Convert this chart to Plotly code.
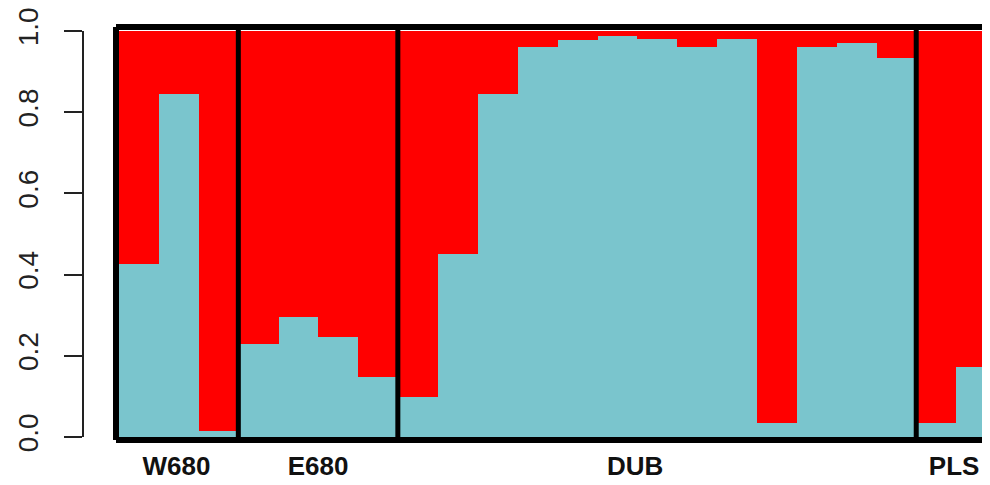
import plotly.graph_objects as go

# ---- data ----
groups = ["W680", "E680", "DUB", "PLS"]
group_sizes = [3, 4, 13, 2]
label_pos = [0.95, 4.5, 12.45, 20.45]
cluster1 = [0.425, 0.844, 0.016,
            0.228, 0.296, 0.247, 0.149,
            0.099, 0.451, 0.844, 0.961, 0.977, 0.988, 0.981, 0.961, 0.981, 0.035, 0.961, 0.971, 0.933,
            0.035, 0.173]
cluster2 = [round(1 - v, 3) for v in cluster1]
y_ticks = [0.0, 0.2, 0.4, 0.6, 0.8, 1.0]

CYAN = "#7AC5CD"
RED = "#FF0000"

idx = list(range(len(cluster1)))

fig = go.Figure()
fig.add_trace(go.Bar(x=idx, y=cluster1, width=1.0, marker=dict(color=CYAN, line=dict(width=0)),
                     showlegend=False, hoverinfo="skip"))
fig.add_trace(go.Bar(x=idx, y=cluster2, width=1.0, marker=dict(color=RED, line=dict(width=0)),
                     showlegend=False, hoverinfo="skip"))

# the page body adds an 8px offset; figure is sized to compensate
OFF = 8
W, H = 990 - OFF, 485 - OFF
ml, mt = 83 - OFF, 31 - OFF
mb = H - (437 - OFF)
plot_w = W - ml
bar_start_px = 118.7 - OFF
dom0 = (bar_start_px - ml) / plot_w
xmin, xmax = -0.5, 21.35

fig.update_layout(
    width=W, height=H,
    margin=dict(l=ml, r=0, t=mt, b=mb, autoexpand=False),
    barmode="stack", bargap=0,
    plot_bgcolor="white", paper_bgcolor="white",
    xaxis=dict(domain=[dom0, 1], range=[xmin, xmax], showgrid=False, zeroline=False,
               showline=False, ticks="", tickmode="array", tickvals=label_pos,
               ticktext=["<b>%s</b>" % g for g in groups], automargin=False,
               ticklabeloverflow="allow",
               tickfont=dict(family="Liberation Sans, Arial", size=26, color="#111"),
               ticklabelstandoff=11),
    yaxis=dict(range=[0, 1], anchor="free", position=0, showgrid=False, zeroline=False,
               showline=True, linecolor="#222", linewidth=1.5, automargin=False,
               ticks="outside", ticklen=18, tickwidth=1.5, tickcolor="#222",
               tickmode="array", tickvals=y_ticks, ticktext=["%.1f" % t for t in y_ticks],
               ticklabelstandoff=15, ticklabeloverflow="allow",
               tickangle=-90, tickfont=dict(family="Liberation Sans, Arial", size=28, color="#222")),
)

# frame (box) around the bars
def px2paper_x(px):
    return (px - OFF - ml) / plot_w

def px2paper_y(py):
    return (H - mb - (py - OFF)) / (H - mt - mb)

left = px2paper_x(116)
top = px2paper_y(27)
bottom = px2paper_y(440)
fig.add_shape(type="line", xref="paper", yref="paper", x0=left, x1=1.02, y0=top, y1=top,
              line=dict(color="black", width=6))
fig.add_shape(type="line", xref="paper", yref="paper", x0=left, x1=1.02, y0=bottom, y1=bottom,
              line=dict(color="black", width=6))
fig.add_shape(type="line", xref="paper", yref="paper", x0=left, x1=left, y0=bottom, y1=top,
              line=dict(color="black", width=6))

# group dividers
b = -0.5
for s in group_sizes[:-1]:
    b += s
    fig.add_shape(type="line", xref="x", yref="paper", x0=b, x1=b, y0=bottom, y1=top,
                  line=dict(color="black", width=5))

fig.write_html("out.html")
